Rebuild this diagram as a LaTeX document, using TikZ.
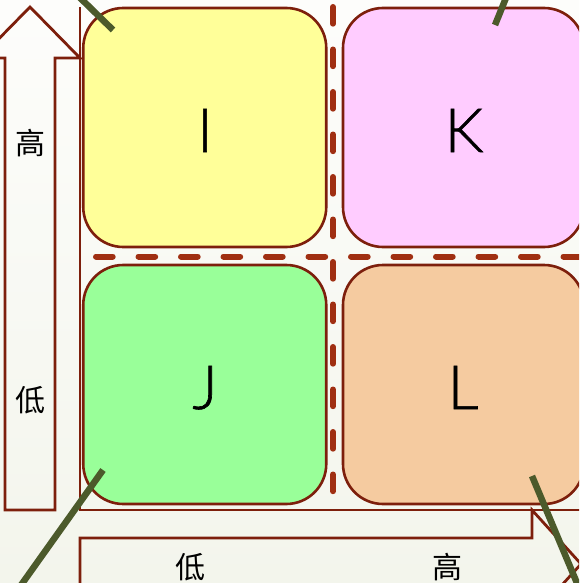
\documentclass[tikz,border=0pt]{standalone}
\usepackage{fontspec}
\setmainfont{Liberation Sans}
\newfontfamily\cjk{Noto Sans CJK SC}
\newfontfamily\lightfont{Lato Light}[UprightFeatures={FakeBold=1}]
\definecolor{bgtop}{HTML}{FDFDFB}
\definecolor{bgbot}{HTML}{F3F5EC}
\definecolor{edge}{HTML}{7D1F0C}
\definecolor{dashc}{HTML}{A02F12}
\definecolor{olive}{HTML}{4C5A2B}
\definecolor{cyel}{HTML}{FFFF99}
\definecolor{cpink}{HTML}{FFCCFF}
\definecolor{cgreen}{HTML}{99FF99}
\definecolor{corange}{HTML}{F5CBA0}
\tikzset{
  quad/.style={draw=edge, line width=2.6pt, rounded corners=40pt, minimum width=243pt, minimum height=239pt, inner sep=0pt},
  letter/.style={anchor=base, font=\lightfont\fontsize{61}{61}\selectfont, inner sep=0pt},
  axlabel/.style={font=\cjk\fontsize{30}{30}\selectfont, inner sep=0pt},
  axline/.style={draw=edge, line width=2.8pt},
  divider/.style={draw=dashc, line width=6pt, line cap=round, dash pattern=on 16.7pt off 25.8pt},
  stick/.style={draw=olive, line width=6.5pt}
}
\begin{document}
\begin{tikzpicture}[x=1pt,y=-1pt]
\useasboundingbox (0,0) rectangle (579,583);
\clip (0,0) rectangle (579,583);
\shade[top color=bgtop, bottom color=bgbot] (0,0) rectangle (579,583);
% quadrants
\node[quad, fill=cyel] (I) at (204.75,127.5) {};
\node[quad, fill=cpink, minimum width=241pt] (K) at (463.5,127.5) {};
\node[quad, fill=cgreen] (J) at (204.75,384.5) {};
\node[quad, fill=corange, minimum width=241pt] (L) at (463.5,384.5) {};
\node[letter] (tI) at (205,152) {I};
\node[letter] (tK) at (464,152) {K};
\node[letter] (tJ) at (205,409) {J};
\node[letter] (tL) at (463,409) {L};
% dividers
\draw[divider] (333,7) -- (333,500);
\draw[divider] (96,256.5) -- (600,256.5);
% axes
\draw[axline] (80,7) -- (80,510) -- (600,510);
\draw[axline, line join=miter] (5,510) -- (5,58) -- (-20,58) -- (30,7) -- (80,58) -- (55,58) -- (55,510) -- cycle;
\draw[axline, line join=miter] (80,600) -- (80,538) -- (532,538) -- (532,510) -- (581,564) -- (532,618) -- (532,600);
\node[axlabel] (vh) at (31,143) {高};
\node[axlabel] (vl) at (31,400) {低};
\node[axlabel] (hl) at (190,567) {低};
\node[axlabel] (hh) at (447,567) {高};
% sticks
\draw[stick] (113,30) -- (70,-12);
\draw[stick] (495,25) -- (510,-12);
\draw[stick] (103,470) -- (14,595);
\draw[stick] (532,476) -- (582,595);
\end{tikzpicture}
\end{document}
